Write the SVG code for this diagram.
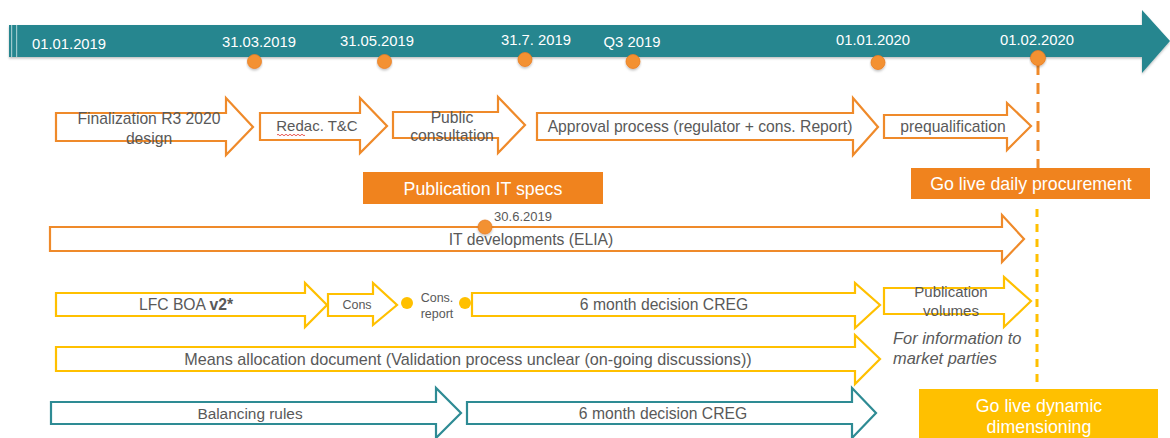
<svg xmlns="http://www.w3.org/2000/svg" width="1170" height="438" viewBox="0 0 1170 438">
<style>
text{font-family:"Liberation Sans",Arial,sans-serif;}
.t{fill:#595959;font-size:15.7px;text-anchor:middle;}
.ts{fill:#595959;font-size:12.5px;text-anchor:middle;}
.date{fill:#ffffff;font-size:14.8px;}
.wb{fill:#ffffff;font-size:17.8px;text-anchor:middle;}
.ao{fill:#ffffff;stroke:#EF8A2A;stroke-width:2.2;}
.ay{fill:#ffffff;stroke:#FFC000;stroke-width:2.2;}
.at{fill:#ffffff;stroke:#2E8B94;stroke-width:2.2;}
.dot{fill:#F39133;stroke:#E97E22;stroke-width:0.8;}
.ydot{fill:#FFC000;}
</style>
<defs>
<filter id="sh" x="-10%" y="-30%" width="120%" height="160%"><feDropShadow dx="0" dy="1.5" stdDeviation="1.2" flood-color="#000" flood-opacity="0.25"/></filter>
</defs>
<g id="timeline">
<path d="M9,25 H1142 V10 L1170,41 L1142,73 V57 H9 Z" fill="#26868F" filter="url(#sh)"/>
<rect x="11" y="25" width="1.2" height="32" fill="#9CC9CD"/>
<rect x="16" y="25" width="1.2" height="32" fill="#9CC9CD"/>
<text class="date" x="32" y="49">01.01.2019</text>
<text class="date" x="259" y="47" text-anchor="middle">31.03.2019</text>
<text class="date" x="377" y="46" text-anchor="middle">31.05.2019</text>
<text class="date" x="536" y="45" text-anchor="middle">31.7. 2019</text>
<text class="date" x="632" y="47" text-anchor="middle">Q3 2019</text>
<text class="date" x="873" y="45" text-anchor="middle">01.01.2020</text>
<text class="date" x="1037" y="45" text-anchor="middle">01.02.2020</text>
</g>
<g id="connectors">
<line x1="1038" y1="64" x2="1038" y2="168" stroke="#EF8A2A" stroke-width="3" stroke-dasharray="11 8"/>
<line x1="1037" y1="209" x2="1037" y2="388" stroke="#FFC000" stroke-width="3" stroke-dasharray="8 7"/>
</g>
<g id="milestones">
<circle class="dot" cx="254.5" cy="61.5" r="7" filter="url(#sh)"/>
<circle class="dot" cx="384.5" cy="61.5" r="7" filter="url(#sh)"/>
<circle class="dot" cx="525" cy="59.5" r="7" filter="url(#sh)"/>
<circle class="dot" cx="633" cy="61.5" r="7" filter="url(#sh)"/>
<circle class="dot" cx="878" cy="62.5" r="7" filter="url(#sh)"/>
<circle class="dot" cx="1038" cy="58" r="7.5" filter="url(#sh)"/>
</g>
<g id="finalization">
<path class="ao" d="M56,113 H226 V98 L253,127 L226,155 V141 H56 Z"/>
<text class="t" x="149" y="124">Finalization R3 2020</text>
<text class="t" x="149" y="144">design</text>
</g>
<g id="redac">
<path class="ao" d="M260,113 H360 V98 L387,126 L360,153 V140 H260 Z"/>
<text class="t" x="317" y="131" style="font-size:15px">Redac. T&amp;C</text>
<path d="M277,135 q1,-1.5 2,0 t2,0 t2,0 t2,0 t2,0 t2,0 t2,0 t2,0 t2,0 t2,0 t2,0 t2,0 t2,0 t2,0" fill="none" stroke="#E0302A" stroke-width="0.8"/>
</g>
<g id="public-consultation">
<path class="ao" d="M393,112 H498 V97 L525,125 L498,153 V138 H393 Z"/>
<text class="t" x="452" y="123">Public</text>
<text class="t" x="452" y="141">consultation</text>
</g>
<g id="approval">
<path class="ao" d="M537,113 H853 V98 L878,127 L853,155 V140 H537 Z"/>
<text class="t" x="700" y="132">Approval process (regulator + cons. Report)</text>
</g>
<g id="prequalification">
<path class="ao" d="M884,115 H1007 V103 L1031,126 L1007,150 V138 H884 Z"/>
<text class="t" x="953" y="132">prequalification</text>
</g>
<g id="publication-it-specs">
<rect x="363" y="172" width="240" height="32" fill="#F0831E"/>
<text class="wb" x="483" y="195">Publication IT specs</text>
</g>
<g id="go-live-daily">
<rect x="911" y="168" width="239" height="31" fill="#F0831E"/>
<text class="wb" x="1031" y="190">Go live daily procurement</text>
</g>
<g id="it-developments">
<path class="ao" d="M50,227 H1002 V215 L1024,239 L1002,262 V251 H50 Z"/>
<circle class="dot" cx="485" cy="227" r="7" filter="url(#sh)"/>
<text class="ts" x="523" y="221" style="font-size:13px">30.6.2019</text>
<text class="t" x="531" y="245">IT developments (ELIA)</text>
</g>
<g id="lfc-boa">
<path class="ay" d="M56,293 H305 V283 L327,305 L305,327 V316 H56 Z"/>
<text class="t" x="186" y="310">LFC BOA <tspan font-weight="bold">v2*</tspan></text>
</g>
<g id="cons">
<path class="ay" d="M328,294 H373 V283 L397,305 L373,325 V316 H328 Z"/>
<text class="ts" x="357" y="309">Cons</text>
</g>
<g id="cons-report">
<circle class="ydot" cx="407" cy="303" r="6"/>
<text class="ts" x="437" y="302">Cons.</text>
<text class="ts" x="437" y="318">report</text>
<circle class="ydot" cx="465" cy="303" r="6"/>
</g>
<g id="creg-lfc">
<path class="ay" d="M472,293 H855 V283 L880,305 L855,328 V316 H472 Z"/>
<text class="t" x="664" y="310">6 month decision CREG</text>
</g>
<g id="publication-volumes">
<path class="ay" d="M884,288 H1004 V277 L1031,301 L1004,327 V314 H884 Z"/>
<text class="t" x="951" y="297" style="font-size:15px">Publication</text>
<text class="t" x="951" y="316" style="font-size:15px">volumes</text>
<text x="893" y="344" style="fill:#595959;font-size:16.4px;font-style:italic">For information to</text>
<text x="893" y="364" style="fill:#595959;font-size:16.4px;font-style:italic">market parties</text>
</g>
<g id="means-allocation">
<path class="ay" d="M56,347 H855 V335 L880,359 L855,384 V371 H56 Z"/>
<text class="t" x="468" y="365" style="font-size:16.2px">Means allocation document (Validation process unclear (on-going discussions))</text>
</g>
<g id="balancing-rules">
<path class="at" d="M51,402 H436 V388 L461,413 L436,438 V424 H51 Z"/>
<text class="t" x="250" y="419" style="font-size:15.4px">Balancing rules</text>
</g>
<g id="creg-balancing">
<path class="at" d="M467,402 H852 V388 L876,413 L852,438 V424 H467 Z"/>
<text class="t" x="663" y="419">6 month decision CREG</text>
</g>
<g id="go-live-dynamic">
<rect x="919" y="389" width="239" height="49" fill="#FFC000"/>
<text class="wb" x="1039" y="412">Go live dynamic</text>
<text class="wb" x="1039" y="433">dimensioning</text>
</g>
</svg>
